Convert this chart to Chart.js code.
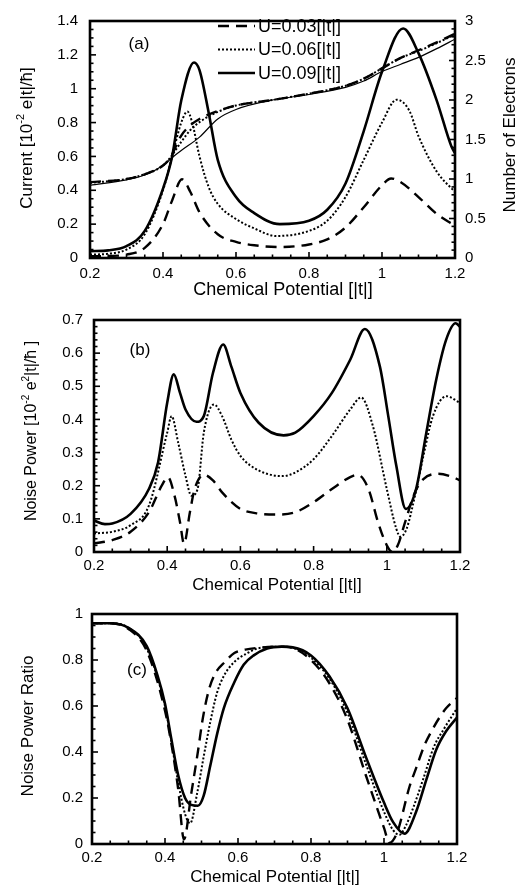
<!DOCTYPE html>
<html><head><meta charset="utf-8">
<script src="https://cdn.jsdelivr.net/npm/chart.js@4.4.1/dist/chart.umd.min.js"></script>
<style>
html,body{margin:0;padding:0;background:#fff;}
.wrap{position:absolute;left:0;width:522px;}
canvas{display:block;}
</style></head><body>
<div class="wrap" style="top:0;height:300px"><canvas id="ca" width="522" height="300"></canvas></div>
<div class="wrap" style="top:300px;height:296px"><canvas id="cb" width="522" height="296"></canvas></div>
<div class="wrap" style="top:596px;height:297px"><canvas id="cc" width="522" height="297"></canvas></div>
<script>
// ---------- DATA ----------
const seriesLabels = ['U=0.03[|t|]', 'U=0.06[|t|]', 'U=0.09[|t|]'];
const xTickVals = [0.2, 0.4, 0.6, 0.8, 1, 1.2];
const xTickLabels = ['0.2', '0.4', '0.6', '0.8', '1', '1.2'];
const aTickVals = [0, 0.2, 0.4, 0.6, 0.8, 1, 1.2, 1.4];
const aTickLabels = ['0', '0.2', '0.4', '0.6', '0.8', '1', '1.2', '1.4'];
const aRightTickVals = [0, 0.5, 1, 1.5, 2, 2.5, 3];
const aRightTickLabels = ['0', '0.5', '1', '1.5', '2', '2.5', '3'];
const bTickVals = [0, 0.1, 0.2, 0.3, 0.4, 0.5, 0.6, 0.7];
const bTickLabels = ['0', '0.1', '0.2', '0.3', '0.4', '0.5', '0.6', '0.7'];
const cTickVals = [0, 0.2, 0.4, 0.6, 0.8, 1];
const cTickLabels = ['0', '0.2', '0.4', '0.6', '0.8', '1'];

// (a) current
const curA03x = [0.2,0.25,0.3,0.35,0.4,0.425,0.452,0.475,0.5,0.55,0.6,0.65,0.72,0.8,0.85,0.9,0.95,1.0,1.025,1.05,1.1,1.15,1.2];
const curA03y = [0.01,0.012,0.02,0.06,0.2,0.34,0.465,0.39,0.27,0.14,0.095,0.075,0.065,0.08,0.11,0.18,0.3,0.43,0.47,0.45,0.36,0.26,0.19];
const curA06x = [0.2,0.25,0.3,0.35,0.4,0.425,0.45,0.467,0.48,0.5,0.525,0.55,0.6,0.65,0.71,0.8,0.85,0.9,0.95,1.0,1.04,1.075,1.1,1.15,1.2];
const curA06y = [0.02,0.025,0.05,0.14,0.4,0.6,0.8,0.865,0.8,0.6,0.42,0.32,0.23,0.175,0.13,0.16,0.22,0.36,0.58,0.8,0.935,0.87,0.72,0.51,0.39];
const curA09x = [0.2,0.25,0.3,0.35,0.4,0.425,0.45,0.485,0.5,0.525,0.55,0.6,0.65,0.72,0.8,0.85,0.9,0.95,1.0,1.058,1.1,1.15,1.19,1.2];
const curA09y = [0.04,0.045,0.07,0.16,0.41,0.6,0.93,1.155,1.11,0.86,0.58,0.36,0.265,0.2,0.22,0.285,0.44,0.75,1.1,1.356,1.21,0.93,0.66,0.62];
// (a) number of electrons
const elA03x = [0.2,0.3,0.35,0.4,0.42,0.45,0.475,0.5,0.55,0.6,0.7,0.8,0.9,0.95,1.0,1.05,1.1,1.15,1.2];
const elA03y = [0.96,1.0,1.06,1.17,1.27,1.55,1.68,1.76,1.86,1.93,2.0,2.08,2.18,2.27,2.4,2.53,2.63,2.73,2.84];
const elA06x = [0.2,0.3,0.35,0.4,0.42,0.45,0.475,0.5,0.55,0.6,0.7,0.8,0.9,0.95,1.0,1.05,1.1,1.15,1.2];
const elA06y = [0.95,1.0,1.06,1.17,1.27,1.47,1.62,1.72,1.85,1.93,2.0,2.08,2.18,2.27,2.4,2.53,2.62,2.72,2.83];
const elA09x = [0.2,0.3,0.35,0.4,0.425,0.45,0.5,0.55,0.6,0.7,0.8,0.9,0.95,1.0,1.05,1.1,1.15,1.2];
const elA09y = [0.92,0.99,1.05,1.17,1.27,1.36,1.53,1.76,1.88,2.0,2.07,2.16,2.24,2.36,2.45,2.54,2.65,2.77];

// (b) noise power
const npB03x = [0.2,0.25,0.3,0.35,0.385,0.402,0.42,0.435,0.446,0.462,0.475,0.5,0.525,0.55,0.6,0.65,0.7,0.75,0.8,0.85,0.9,0.92,0.95,0.976,1.0,1.015,1.03,1.05,1.077,1.1,1.14,1.18,1.2];
const npB03y = [0.026,0.036,0.061,0.12,0.2,0.226,0.17,0.09,0.025,0.12,0.19,0.233,0.216,0.18,0.13,0.116,0.113,0.12,0.15,0.19,0.226,0.233,0.19,0.09,0.02,0.0,0.02,0.09,0.18,0.22,0.236,0.226,0.216];
const npB06x = [0.2,0.25,0.3,0.35,0.4,0.412,0.43,0.45,0.466,0.483,0.5,0.528,0.55,0.575,0.6,0.65,0.716,0.75,0.8,0.85,0.9,0.93,0.962,1.0,1.026,1.037,1.054,1.077,1.1,1.126,1.163,1.2];
const npB06y = [0.056,0.061,0.081,0.14,0.36,0.41,0.33,0.23,0.17,0.19,0.36,0.445,0.41,0.34,0.29,0.246,0.229,0.24,0.28,0.35,0.43,0.466,0.38,0.19,0.07,0.046,0.07,0.17,0.29,0.41,0.47,0.45];
const npB09x = [0.2,0.23,0.25,0.3,0.35,0.375,0.4,0.418,0.435,0.45,0.48,0.5,0.525,0.553,0.575,0.6,0.65,0.718,0.75,0.8,0.85,0.9,0.94,0.981,1.004,1.026,1.052,1.08,1.108,1.135,1.162,1.188,1.2];
const npB09y = [0.095,0.084,0.086,0.115,0.19,0.27,0.45,0.536,0.48,0.43,0.393,0.41,0.54,0.626,0.56,0.48,0.39,0.352,0.36,0.41,0.48,0.58,0.673,0.56,0.41,0.26,0.13,0.19,0.36,0.52,0.64,0.69,0.68];

// (c) noise power ratio
const nrC03x = [0.2,0.25,0.3,0.35,0.4,0.417,0.436,0.452,0.472,0.49,0.504,0.522,0.541,0.563,0.59,0.62,0.65,0.715,0.75,0.8,0.85,0.9,0.95,1.0,1.015,1.036,1.07,1.088,1.111,1.13,1.152,1.17,1.2];
const nrC03y = [0.96,0.96,0.935,0.84,0.58,0.44,0.24,0.02,0.22,0.4,0.55,0.68,0.75,0.79,0.83,0.845,0.852,0.858,0.852,0.8,0.7,0.54,0.3,0.07,0.005,0.05,0.25,0.33,0.43,0.49,0.55,0.59,0.635];
const nrC06x = [0.2,0.25,0.3,0.35,0.4,0.417,0.436,0.455,0.469,0.488,0.506,0.524,0.543,0.561,0.589,0.626,0.653,0.715,0.75,0.8,0.85,0.9,0.95,1.0,1.025,1.042,1.06,1.082,1.109,1.136,1.164,1.2];
const nrC06y = [0.96,0.96,0.94,0.85,0.6,0.45,0.27,0.13,0.09,0.22,0.38,0.53,0.66,0.73,0.79,0.83,0.85,0.858,0.853,0.81,0.72,0.57,0.35,0.14,0.06,0.04,0.08,0.166,0.29,0.42,0.5,0.59];
const nrC09x = [0.2,0.25,0.3,0.35,0.38,0.4,0.417,0.436,0.455,0.472,0.49,0.506,0.524,0.543,0.561,0.589,0.616,0.643,0.68,0.72,0.75,0.8,0.85,0.9,0.95,1.0,1.025,1.056,1.088,1.116,1.143,1.17,1.2];
const nrC09y = [0.96,0.96,0.94,0.86,0.73,0.61,0.46,0.3,0.2,0.17,0.166,0.21,0.34,0.48,0.59,0.7,0.78,0.82,0.85,0.858,0.855,0.82,0.73,0.59,0.38,0.18,0.095,0.045,0.14,0.28,0.41,0.49,0.55];

// ---------- STYLE ----------
const FONT = "'Liberation Sans', Arial, Helvetica, sans-serif";
const STY = [
  {dash: [11, 7], w: 2.4},
  {dash: [2, 2], w: 2.0},
  {dash: [], w: 2.6}
];

function pts(xs, ys) { return xs.map((x, i) => ({x: x, y: ys[i]})); }

function ds(label, xs, ys, sty, axis, w) {
  return {
    label: label, data: pts(xs, ys), yAxisID: axis || 'y',
    borderColor: '#000', backgroundColor: '#000',
    borderWidth: w || sty.w, borderDash: sty.dash,
    pointRadius: 0, cubicInterpolationMode: 'monotone', fill: false
  };
}

function drawRich(ctx, parts, cx, cy, size, rot) {
  ctx.save();
  ctx.translate(cx, cy);
  ctx.rotate(rot);
  let total = 0;
  parts.forEach(p => {
    ctx.font = (p.sup ? Math.round(size * 0.62) : size) + 'px ' + FONT;
    p.w = ctx.measureText(p.t).width; total += p.w;
  });
  let x = -total / 2;
  ctx.textBaseline = 'middle'; ctx.textAlign = 'left'; ctx.fillStyle = '#000';
  parts.forEach(p => {
    ctx.font = (p.sup ? Math.round(size * 0.62) : size) + 'px ' + FONT;
    ctx.fillText(p.t, x, p.sup ? -size * 0.38 : 0);
    x += p.w;
  });
  ctx.restore();
}

function innerTicks(ctx, scale, area, side, step, majorEvery, minorLen, majorLen) {
  const n = Math.round((scale.max - scale.min) / step);
  ctx.save();
  ctx.strokeStyle = '#000'; ctx.lineWidth = 1.6;
  for (let k = 0; k <= n; k++) {
    const v = scale.min + k * step;
    const p = scale.getPixelForValue(v);
    const L = (k % majorEvery === 0) ? majorLen : minorLen;
    ctx.beginPath();
    if (side === 'bottom') { ctx.moveTo(p, area.bottom); ctx.lineTo(p, area.bottom - L); }
    else if (side === 'left') { ctx.moveTo(area.left, p); ctx.lineTo(area.left + L, p); }
    else if (side === 'right') { ctx.moveTo(area.right, p); ctx.lineTo(area.right - L, p); }
    ctx.stroke();
  }
  ctx.restore();
}

const decor = {
  id: 'decor',
  afterDraw(chart, args, o) {
    const ctx = chart.ctx, a = chart.chartArea;
    (o.ticks || []).forEach(t => innerTicks(ctx, chart.scales[t.axis], a, t.side, t.step, t.major, 3.5, 6));
    ctx.save();
    ctx.strokeStyle = '#000'; ctx.lineWidth = 2.6; ctx.setLineDash([]);
    ctx.strokeRect(a.left, a.top, a.right - a.left, a.bottom - a.top);
    ctx.restore();
    (o.titles || []).forEach(t => drawRich(ctx, t.parts, t.x, t.y, t.size, t.rot || 0));
    if (o.panel) {
      ctx.save(); ctx.font = '17px ' + FONT; ctx.fillStyle = '#000';
      ctx.textAlign = 'center'; ctx.textBaseline = 'middle';
      ctx.fillText(o.panel.t, o.panel.x, o.panel.y); ctx.restore();
    }
    if (o.legend) {
      const L = o.legend;
      L.rows.forEach((r, i) => {
        const y = L.y0 + i * L.dy;
        const d = chart.data.datasets[r];
        ctx.save();
        ctx.strokeStyle = '#000'; ctx.lineWidth = d.borderWidth; ctx.setLineDash(d.borderDash || []);
        ctx.beginPath(); ctx.moveTo(L.x0, y); ctx.lineTo(L.x1, y); ctx.stroke();
        ctx.setLineDash([]);
        ctx.font = L.size + 'px ' + FONT; ctx.fillStyle = '#000';
        ctx.textAlign = 'left'; ctx.textBaseline = 'middle';
        ctx.fillText(d.label, L.x1 + 3, y + 1);
        ctx.restore();
      });
    }
  }
};

function xScale(h, pad) {
  return {
    type: 'linear', min: 0.2, max: 1.2,
    afterBuildTicks: sc => { sc.ticks = xTickVals.map(v => ({value: v})); },
    afterFit: sc => { sc.height = h; },
    ticks: {font: {family: FONT, size: 15}, color: '#000', padding: pad, maxRotation: 0, autoSkip: false,
      callback: (v, i) => xTickLabels[i]},
    grid: {display: false, drawTicks: false}, border: {display: false}
  };
}
function yScale(pos, min, max, vals, labels, w, pad) {
  return {
    type: 'linear', position: pos, min: min, max: max,
    afterBuildTicks: sc => { sc.ticks = vals.map(v => ({value: v})); },
    afterFit: sc => { sc.width = w; },
    ticks: {font: {family: FONT, size: 15}, color: '#000', padding: pad, autoSkip: false,
      callback: (v, i) => labels[i]},
    grid: {display: false, drawTicks: false}, border: {display: false}
  };
}

function baseOpts(padTop, padRight, scales, decorOpts) {
  return {
    responsive: false, animation: false, devicePixelRatio: 1,
    layout: {padding: {top: padTop, right: padRight, left: 0, bottom: 0}},
    plugins: {legend: {display: false}, tooltip: {enabled: false}, decor: decorOpts},
    scales: scales
  };
}

// ---------- (a) ----------
new Chart(document.getElementById('ca'), {
  type: 'line',
  data: {datasets: [
    ds(seriesLabels[0], curA03x, curA03y, STY[0]),
    ds(seriesLabels[1], curA06x, curA06y, STY[1]),
    ds(seriesLabels[2], curA09x, curA09y, STY[2]),
    ds('N ' + seriesLabels[0], elA03x, elA03y, STY[0], 'y1'),
    ds('N ' + seriesLabels[1], elA06x, elA06y, STY[1], 'y1'),
    ds('N ' + seriesLabels[2], elA09x, elA09y, STY[2], 'y1', 1.2)
  ]},
  options: baseOpts(14, 0, {
    x: xScale(42, 7),
    y: yScale('left', 0, 1.4, aTickVals, aTickLabels, 90, 12),
    y1: yScale('right', 0, 3, aRightTickVals, aRightTickLabels, 67, 10)
  }, {
    ticks: [
      {axis: 'x', side: 'bottom', step: 0.05, major: 4},
      {axis: 'y', side: 'left', step: 0.05, major: 4},
      {axis: 'y1', side: 'right', step: 0.1, major: 5}
    ],
    titles: [
      {parts: [{t: 'Chemical Potential [|t|]'}], x: 283, y: 290, size: 18},
      {parts: [{t: 'Current [10'}, {t: '-2', sup: true}, {t: ' e|t|/ħ]'}], x: 27, y: 138, size: 17, rot: -Math.PI / 2},
      {parts: [{t: 'Number of Electrons'}], x: 510, y: 135, size: 17, rot: -Math.PI / 2}
    ],
    panel: {t: '(a)', x: 139, y: 44},
    legend: {rows: [0, 1, 2], x0: 218, x1: 255, y0: 26, dy: 23.5, size: 18}
  }),
  plugins: [decor]
});

// ---------- (b) ----------
new Chart(document.getElementById('cb'), {
  type: 'line',
  data: {datasets: [
    ds(seriesLabels[0], npB03x, npB03y, STY[0]),
    ds(seriesLabels[1], npB06x, npB06y, STY[1]),
    ds(seriesLabels[2], npB09x, npB09y, STY[2])
  ]},
  options: baseOpts(19, 62, {
    x: xScale(44, 5),
    y: yScale('left', 0, 0.7, bTickVals, bTickLabels, 94, 11)
  }, {
    ticks: [
      {axis: 'x', side: 'bottom', step: 0.05, major: 4},
      {axis: 'y', side: 'left', step: 0.02, major: 5}
    ],
    titles: [
      {parts: [{t: 'Chemical Potential [|t|]'}], x: 277, y: 285, size: 17},
      {parts: [{t: 'Noise Power [10'}, {t: '-2', sup: true}, {t: ' e'}, {t: '2', sup: true}, {t: '|t|/ħ ]'}], x: 32, y: 131, size: 16, rot: -Math.PI / 2}
    ],
    panel: {t: '(b)', x: 140, y: 50}
  }),
  plugins: [decor]
});

// ---------- (c) ----------
new Chart(document.getElementById('cc'), {
  type: 'line',
  data: {datasets: [
    ds(seriesLabels[0], nrC03x, nrC03y, STY[0]),
    ds(seriesLabels[1], nrC06x, nrC06y, STY[1]),
    ds(seriesLabels[2], nrC09x, nrC09y, STY[2])
  ]},
  options: baseOpts(13, 65, {
    x: xScale(49, 5),
    y: yScale('left', 0, 1, cTickVals, cTickLabels, 92, 9)
  }, {
    ticks: [
      {axis: 'x', side: 'bottom', step: 0.05, major: 4},
      {axis: 'y', side: 'left', step: 0.05, major: 4}
    ],
    titles: [
      {parts: [{t: 'Chemical Potential [|t|]'}], x: 275, y: 281, size: 17},
      {parts: [{t: 'Noise Power Ratio'}], x: 28, y: 130, size: 17, rot: -Math.PI / 2}
    ],
    panel: {t: '(c)', x: 137, y: 74}
  }),
  plugins: [decor]
});
</script>
</body></html>
